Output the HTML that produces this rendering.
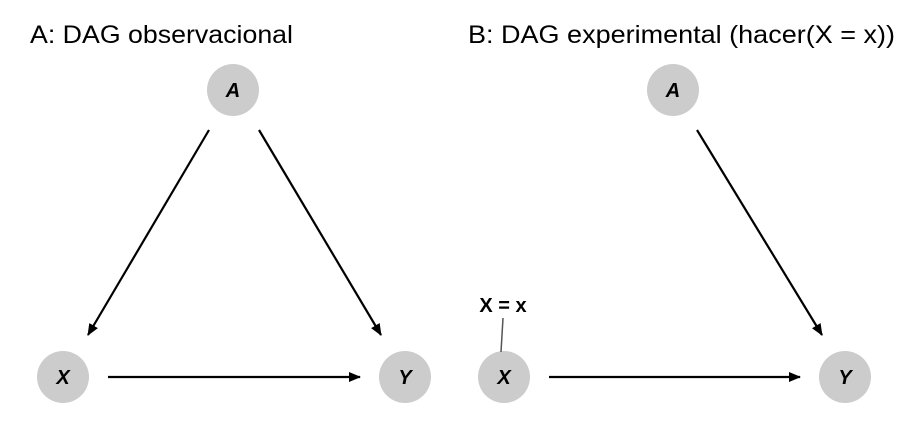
<!DOCTYPE html>
<html><head><style>body{margin:0;background:#fff}svg{display:block}</style></head><body>
<svg width="901" height="434" xmlns="http://www.w3.org/2000/svg" font-family="Liberation Sans, sans-serif">
<defs><marker id="ah" markerWidth="12" markerHeight="12" refX="11" refY="6" orient="auto" markerUnits="userSpaceOnUse"><path d="M0,1 L12,6 L0,11 z" fill="#000"/></marker></defs>
<text x="30" y="43" font-size="25" textLength="263" lengthAdjust="spacingAndGlyphs">A: DAG observacional</text>
<text x="468" y="43" font-size="25" textLength="427" lengthAdjust="spacingAndGlyphs">B: DAG experimental (hacer(X = x))</text>
<g fill="#cccccc">
<circle cx="233" cy="90" r="26"/><circle cx="63" cy="377" r="26"/><circle cx="405" cy="377" r="26"/>
<circle cx="673" cy="90" r="26"/><circle cx="504" cy="377" r="26"/><circle cx="845" cy="377" r="26"/>
</g>
<g font-size="20" font-weight="bold" font-style="italic" text-anchor="middle">
<text x="233" y="97">A</text><text x="63" y="384">X</text><text x="405" y="384">Y</text>
<text x="673" y="97">A</text><text x="504" y="384">X</text><text x="845" y="384">Y</text>
</g>
<g stroke="#000" stroke-width="2.2" marker-end="url(#ah)">
<line x1="209" y1="130" x2="88" y2="335"/>
<line x1="259" y1="130" x2="381" y2="335"/>
<line x1="108" y1="377" x2="360" y2="377"/>
<line x1="697" y1="130" x2="822" y2="335"/>
<line x1="549" y1="377" x2="800" y2="377"/>
</g>
<line x1="503" y1="318" x2="501" y2="352" stroke="#555" stroke-width="1.5"/>
<text x="503" y="312" font-size="20" font-weight="bold" text-anchor="middle">X = x</text>
</svg>
</body></html>
